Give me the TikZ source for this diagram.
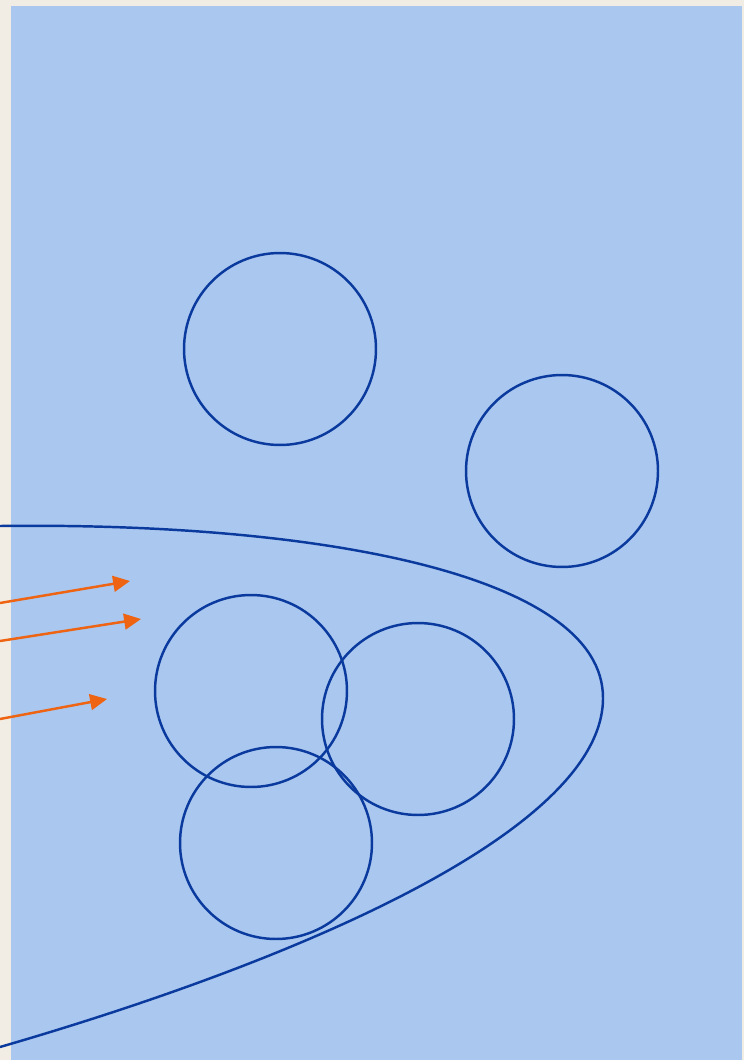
\documentclass[tikz,border=0pt]{standalone}
\usetikzlibrary{arrows.meta}
\definecolor{paper}{HTML}{F2EDE4}
\definecolor{field}{HTML}{A9C7EF}
\definecolor{ink}{HTML}{0B3A9E}
\definecolor{ray}{HTML}{EE6412}
\begin{document}
\begin{tikzpicture}[x=0.02cm,y=-0.02cm,
  ring/.style={circle,draw=ink,line width=1.4pt,minimum size=3.84cm,inner sep=0pt,outer sep=0pt},
  shot/.style={draw=ray,line width=1.4pt,-{Triangle[length=9.6pt,width=9pt]}}]
  \useasboundingbox (0,0) rectangle (744,1060);
  \fill[paper] (0,0) rectangle (744,1060);
  \fill[field] (11,6) rectangle (742,1060);
  \node[ring] (c1) at (280,349) {}; \node[ring] (c2) at (562,471) {};
  \node[ring] (c3) at (251,691) {}; \node[ring] (c4) at (418,719) {};
  \node[ring] (c5) at (276,843) {};
  \coordinate (in) at (0,526); \coordinate (tip) at (603,698); \coordinate (out) at (0,1047);
  \draw[ink,line width=1.4pt] (in) .. controls (320,522) and (603,575) .. (tip)
    .. controls (603,830) and (300,960) .. (out);
  \coordinate (s1) at (0,603); \coordinate (e1) at (130,581);
  \coordinate (s2) at (0,641); \coordinate (e2) at (141,619);
  \coordinate (s3) at (0,719); \coordinate (e3) at (107,699);
  \draw[shot] (s1) -- (e1); \draw[shot] (s2) -- (e2); \draw[shot] (s3) -- (e3);
\end{tikzpicture}
\end{document}
